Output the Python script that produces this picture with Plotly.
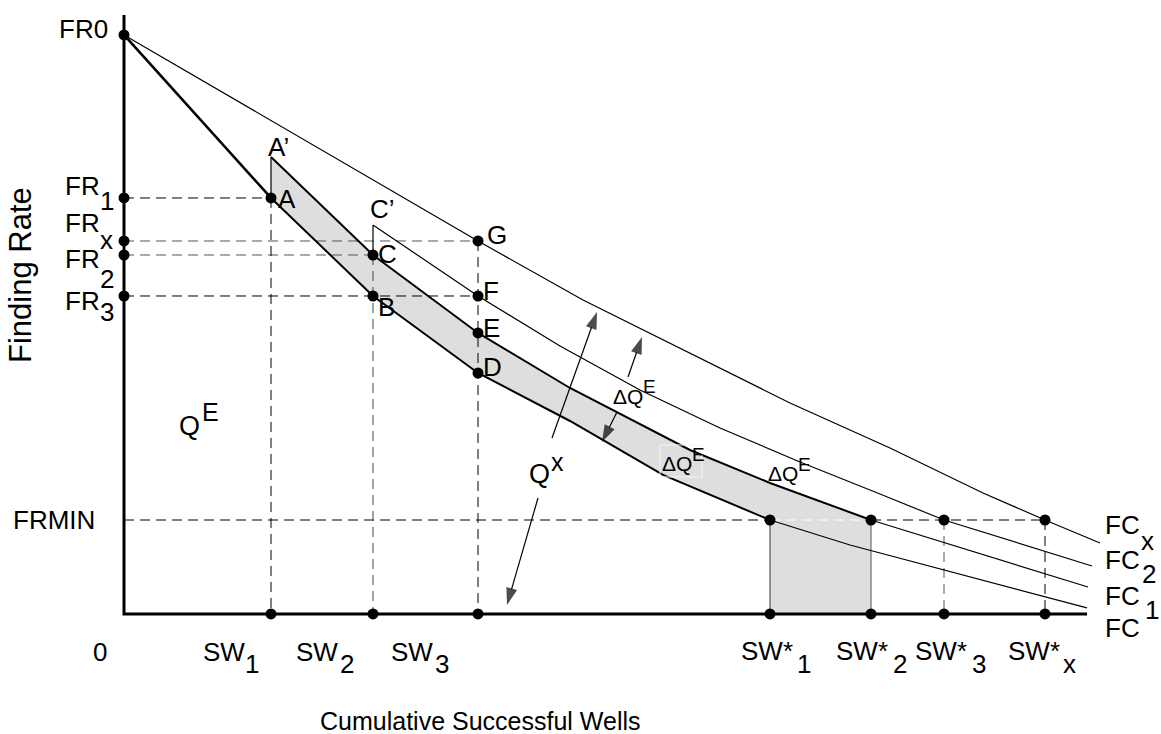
import plotly.graph_objects as go

# ---------------- data (finding-rate units, FR0 = 100; wells units) ----------------
FR0 = 100.0
FR1 = 71.85
FRX = 64.42
FR2 = 62.00
FR3 = 54.92
FRMIN = 16.23
FR_E = 48.53
FR_D = 41.62
FR_A_PRIME = 78.93
FR_C_PRIME = 67.18

SW1, SW2, SW3 = 14.7, 24.9, 35.4
SWS1, SWS2, SWS3, SWSX = 64.6, 74.7, 82.0, 92.1
X_END = 96.3
Y_TOP = 103.45

# curves
fc_x = [0, 14.7, 24.9, 35.4, 44.6, 53.9, 64.6]
fc_y = [100, 71.85, 54.92, 41.62, 33.33, 24.01, 16.23]
fc_tail_x = [64.6, 72.6, 96.3]
fc_tail_y = [16.23, 11.92, 1.04]
fc1_x = [14.7, 24.9, 35.4, 44.6, 56.6, 64.6, 74.7]
fc1_y = [78.93, 62.00, 48.53, 39.03, 28.32, 22.63, 16.23]
fc1_tail_x = [74.7, 96.4]
fc1_tail_y = [16.23, 4.66]
fc2_x = [24.9, 35.4, 43.6, 51.6, 59.6, 67.6, 75.6, 82.0, 96.8]
fc2_y = [67.18, 54.92, 46.29, 38.69, 32.12, 26.25, 20.73, 16.23, 8.29]
fcx_x = [0, 35.4, 45.9, 61.9, 66.6, 76.6, 85.9, 92.1, 97.6]
fcx_y = [100, 64.42, 54.23, 40.41, 36.44, 28.67, 20.90, 16.23, 12.26]

# arrows: (tail_x, tail_y, tip_x, tip_y)
arrows = [
    (42.8, 30.40, 47.3, 52.16),
    (41.4, 20.03, 38.3, 1.55),
    (50.4, 40.93, 51.8, 47.84),
    (49.3, 34.89, 47.8, 29.71),
]

# label anchors for the Q annotations
dq_pos = [(51.9, 37.48, 10), (56.8, 25.91, 9), (67.4, 24.18, 9)]

FONT = "Liberation Sans, Arial, sans-serif"
DASH = "10px,6px"

fig = go.Figure()


def line(x, y, width=1.2, color="black", dash=None):
    fig.add_trace(go.Scatter(x=x, y=y, mode="lines",
                             line=dict(width=width, color=color, dash=dash),
                             hoverinfo="skip", showlegend=False))


# shaded band
band_x = fc_x[1:] + [SWS1, SWS2] + fc1_x[::-1]
band_y = fc_y[1:] + [0, 0] + fc1_y[::-1]
fig.add_trace(go.Scatter(x=band_x, y=band_y, mode="lines", fill="toself",
                         fillcolor="#dedede", line=dict(width=0, color="#dedede"),
                         hoverinfo="skip", showlegend=False))

# dashed guides
line([0, SW1], [FR1, FR1], 1, "black", DASH)
line([0, SW3], [FRX, FRX], 1, "#555", DASH)
line([0, SW2], [FR2, FR2], 1, "#555", DASH)
line([0, SW3], [FR3, FR3], 1, "black", DASH)
line([0, SWS1], [FRMIN, FRMIN], 1, "black", DASH)
line([SWS1, SWS2], [FRMIN, FRMIN], 1, "white", DASH)
line([SWS2, SWSX], [FRMIN, FRMIN], 1, "black", DASH)
line([SW1, SW1], [FR1, 0], 1, "black", DASH)
line([SW2, SW2], [FR2, 0], 1, "#444", DASH)
line([SW3, SW3], [FRX, 0], 1, "black", DASH)
line([SWS1, SWS1], [FRMIN, 0], 1, "#333")
line([SWS2, SWS2], [FRMIN, 0], 1, "#555")
line([SWS3, SWS3], [FRMIN, 0], 1, "#555", DASH)
line([SWSX, SWSX], [FRMIN, 0], 1, "black", DASH)

# curves
line(fcx_x, fcx_y, 1.2)
line(fc2_x, fc2_y, 1.2)
line([SW2, SW2], [FR2, FR_C_PRIME], 1.2)
line(fc1_tail_x, fc1_tail_y, 1.2)
line(fc_tail_x, fc_tail_y, 1.2)
line(fc1_x, fc1_y, 2)
line([SW1, SW1], [FR1, FR_A_PRIME], 1.2)
line(fc_x[:2], fc_y[:2], 2.6)
line(fc_x[1:], fc_y[1:], 2)

# axes
line([0, 0, X_END], [Y_TOP, 0, 0], 3)

# arrows (line + arrow-head marker at the tip)
for tx, ty, hx, hy in arrows:
    fig.add_trace(go.Scatter(x=[tx, hx], y=[ty, hy], mode="lines+markers",
                             line=dict(width=1.2, color="black"),
                             marker=dict(symbol="arrow", size=[0, 18], angleref="previous",
                                         color="black", line=dict(width=0)),
                             hoverinfo="skip", showlegend=False, cliponaxis=False))

# dots
dot_x = [0, 0, 0, 0, 0,
         SW1, SW2, SW2, SW3, SW3, SW3, SW3,
         SWS1, SWS2, SWS3, SWSX,
         SW1, SW2, SW3, SWS1, SWS2, SWS3, SWSX]
dot_y = [FR0, FR1, FRX, FR2, FR3,
         FR1, FR2, FR3, FRX, FR3, FR_E, FR_D,
         FRMIN, FRMIN, FRMIN, FRMIN,
         0, 0, 0, 0, 0, 0, 0]
fig.add_trace(go.Scatter(x=dot_x, y=dot_y, mode="markers",
                         marker=dict(size=11, color="black"),
                         hoverinfo="skip", showlegend=False, cliponaxis=False))

ann = []


def txt(x, y, s, dx=0, dy=0, size=26, xa="center", ya="middle", angle=0):
    ann.append(dict(x=x, y=y, xref="x", yref="y", text=s, showarrow=False,
                    xshift=dx, yshift=dy, xanchor=xa, yanchor=ya, textangle=angle,
                    borderpad=0, borderwidth=0,
                    font=dict(family=FONT, size=size, color="black")))


# y labels
txt(0, FR0, "FR0", -16, 6, xa="right")
for val, sub, mdy, sdy in [(FR1, "1", 12, -3), (FRX, "x", 18, 1),
                           (FR2, "2", -4, -24), (FR3, "3", -5, -16)]:
    txt(0, val, "FR", -24, mdy, xa="right")
    txt(0, val, sub, -24, sdy, xa="left")
txt(0, FRMIN, "FRMIN", -29, 0, xa="right")

# x labels
txt(0, 0, "0", -24, -38)
for val, mdx, sdx, sub in [(SW1, -26, -26, "1"), (SW2, -35, -33, "2"), (SW3, -45, -43, "3")]:
    txt(val, 0, "SW", mdx, -38, xa="right")
    txt(val, 0, sub, sdx, -50, xa="left")
for val, mdx, sdx, sub in [(SWS1, 23, 27, "1"), (SWS2, 17, 22, "2"),
                           (SWS3, 23, 28, "3"), (SWSX, 15, 18, "x")]:
    txt(val, 0, "SW*", mdx, -37, xa="right")
    txt(val, 0, sub, sdx, -50, xa="left")

# curve labels
txt(fc_tail_x[-1], fc_tail_y[-1], "FC", 18, -20, xa="left")
txt(fc1_tail_x[-1], fc1_tail_y[-1], "FC", 17, -9, xa="left")
txt(fc1_tail_x[-1], fc1_tail_y[-1], "1", 57, -23, xa="left")
txt(fc2_x[-1], fc2_y[-1], "FC", 13, 6, xa="left")
txt(fc2_x[-1], fc2_y[-1], "2", 50, -8, xa="left")
txt(fcx_x[-1], fcx_y[-1], "FC", 5, 18, xa="left")
txt(fcx_x[-1], fcx_y[-1], "x", 41, 2, xa="left")

# point labels
txt(SW1, FR_A_PRIME, "A’", -3, 10, xa="left")
txt(SW1, FR1, "A", 7, -1, xa="left")
txt(SW2, FR_C_PRIME, "C’", -3, 16, xa="left")
txt(SW2, FR2, "C", 5, 1, xa="left")
txt(SW2, FR3, "B", 5, -11, xa="left")
txt(SW3, FRX, "G", 9, 6, xa="left")
txt(SW3, FR3, "F", 5, 5, xa="left")
txt(SW3, FR_E, "E", 5, 5, xa="left")
txt(SW3, FR_D, "D", 5, 6, xa="left")

# Q labels
txt(7.6, 32.47, "Q", 0, 0, size=27, xa="right")
txt(7.6, 32.47, "E", 2, 14, size=25, xa="left")
txt(42.6, 24.18, "Q", 0, 0, size=27, xa="right")
txt(42.6, 24.18, "x", 1, 12, size=25, xa="left")
for qx, qy, edy in dq_pos:
    txt(qx, qy, "ΔQ", 0, 0, size=21, xa="right")
    txt(qx, qy, "E", 0, edy, size=19, xa="left")

# axis titles
txt(-10.3, 58.55, "Finding Rate", 0, 0, size=31, angle=-90)
txt(35.6, -18.48, "Cumulative Successful Wells", 0, 0, size=25)

fig.update_layout(
    width=1161, height=734,
    margin=dict(l=0, r=0, t=0, b=0, autoexpand=False),
    paper_bgcolor="white", plot_bgcolor="white",
    xaxis=dict(range=[-12.4, 103.7], visible=False, fixedrange=True),
    yaxis=dict(range=[-20.73, 106.04], visible=False, fixedrange=True),
    annotations=ann,
    shapes=[dict(type="rect", xref="x", yref="y", x0=53.6, x1=57.8, y0=23.66, y1=29.19,
                 line=dict(color="#f4f4f4", width=1), layer="above")],
    showlegend=False,
)

fig.write_html("out.html", config={"displayModeBar": False},
               post_script="document.body.style.margin='0px';")
